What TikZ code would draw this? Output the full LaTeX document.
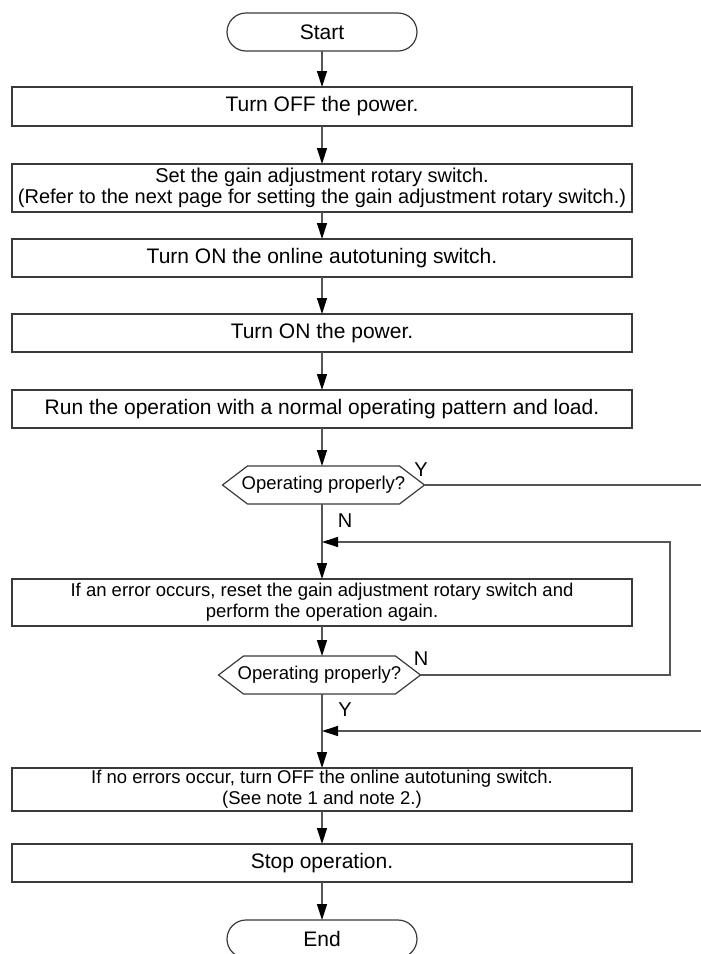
\documentclass[tikz,border=0pt]{standalone}
\usepackage{fontspec}
\setmainfont{Liberation Sans}
\usetikzlibrary{arrows.meta,calc}
\definecolor{boxline}{HTML}{3A3A3A}
\definecolor{conn}{HTML}{555555}
\begin{document}
\begin{tikzpicture}[x=1pt,y=-1pt,
  every node/.style={inner sep=0pt,outer sep=0pt},
  stepbox/.style={draw=boxline,line width=1.2pt,minimum width=620pt,align=center,font=\fontsize{21}{22}\selectfont},
  smallbox/.style={stepbox,font=\fontsize{18.5}{21}\selectfont},
  term/.style={draw=boxline,line width=1.2pt,rounded corners=19pt,minimum width=190pt,minimum height=38pt,font=\fontsize{21}{22}\selectfont},
  decbox/.style={minimum width=202pt,minimum height=38pt,font=\fontsize{18.5}{20}\selectfont},
  hexline/.style={draw=boxline,line width=1.2pt},
  conn/.style={draw=conn,line width=1.3pt},
  arr/.style={conn,-{Triangle[length=16pt,width=10pt,fill=black,color=black]}},
  lab/.style={font=\fontsize{20}{21}\selectfont}
]
\useasboundingbox (0,0) rectangle (701,954);

\node[term] (start) at (322,32) {Start};
\node[stepbox,minimum height=39pt] (b1) at (322,106.5) {Turn OFF the power.};
\node[stepbox,minimum height=48pt,font=\fontsize{20}{21.5}\selectfont] (b2) at (322,188) {Set the gain adjustment rotary switch.\\(Refer to the next page for setting the gain adjustment rotary switch.)};
\node[stepbox,minimum height=38pt] (b3) at (322,258) {Turn ON the online autotuning switch.};
\node[stepbox,minimum height=38pt] (b4) at (322,333) {Turn ON the power.};
\node[stepbox,minimum height=38pt] (b5) at (322,409) {Run the operation with a normal operating pattern and load.};
\node[decbox] (d1) at (323.5,485) {Operating properly?};
\node[smallbox,minimum height=47pt] (b6) at (322,602.5) {If an error occurs, reset the gain adjustment rotary switch and\\perform the operation again.};
\node[decbox] (d2) at (319.5,675) {Operating properly?};
\node[smallbox,minimum height=43pt] (b7) at (322,789.5) {If no errors occur, turn OFF the online autotuning switch.\\(See note 1 and note 2.)};
\node[stepbox,minimum height=38pt] (b8) at (322,863) {Stop operation.};
\node[term] (end) at (322,939) {End};

% hexagons
\foreach \d in {d1,d2}{
  \draw[hexline] (\d.west) -- ($(\d.north west)+(25,0)$) -- ($(\d.north east)+(-25,0)$) -- (\d.east)
    -- ($(\d.south east)+(-25,0)$) -- ($(\d.south west)+(25,0)$) -- cycle;
}

% labels
\node[lab] (ly1) at (421,470) {Y};
\node[lab] (ln1) at (345,521) {N};
\node[lab] (ln2) at (421,659) {N};
\node[lab] (ly2) at (345,710) {Y};

% coordinates
\coordinate (j1) at (322,542);
\coordinate (j2) at (322,731);
\coordinate (r1) at (701,485);
\coordinate (r2) at (701,731);
\coordinate (l1) at (670,675);
\coordinate (l2) at (670,542);

% connectors
\draw[arr] (start.south) -- (b1.north);
\draw[arr] (b1.south) -- (b2.north);
\draw[arr] (b2.south) -- (b3.north);
\draw[arr] (b3.south) -- (b4.north);
\draw[arr] (b4.south) -- (b5.north);
\draw[arr] (b5.south) -- (b5.south |- d1.north);
\draw[arr] (b5.south |- d1.south) -- (b6.north);
\draw[conn] (d1.east) -- (r1);
\draw[arr] (d2.east) -- (l1) -- (l2) -- (j1);
\draw[arr] (b6.south) -- (b6.south |- d2.north);
\draw[arr] (b6.south |- d2.south) -- (b7.north);
\draw[arr] (r2) -- (j2);
\draw[arr] (b7.south) -- (b8.north);
\draw[arr] (b8.south) -- (end.north);
\end{tikzpicture}
\end{document}
